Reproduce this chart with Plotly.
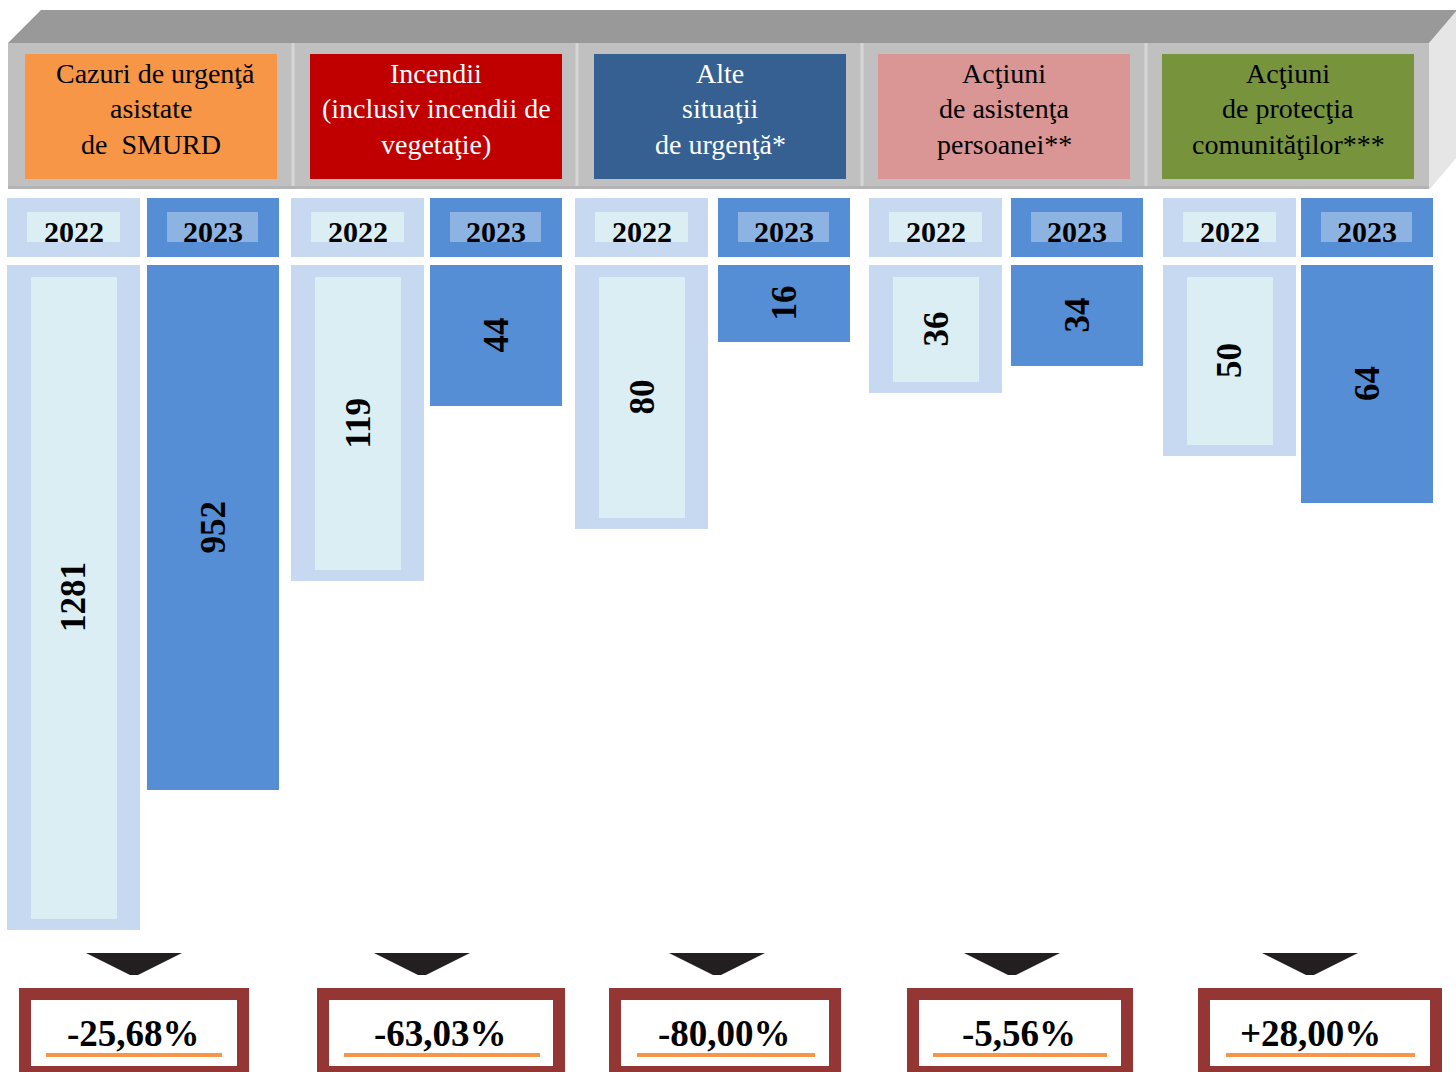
import plotly.graph_objects as go

# ---------------- data ----------------
category_lines = [
    ["Cazuri de urgenţă", "asistate", "de  SMURD"],
    ["Incendii", "(inclusiv incendii de", "vegetaţie)"],
    ["Alte", "situaţii", "de urgenţă*"],
    ["Acţiuni", "de asistenţa", "persoanei**"],
    ["Acţiuni", "de protecţia", "comunităţilor***"],
]
years = ["2022", "2023"]
values_2022 = [1281, 119, 80, 36, 50]
values_2023 = [952, 44, 16, 34, 64]
# drawn bar lengths as shown in the infographic (its own non-linear visual scale)
bar_len_2022 = [665, 316, 264, 128, 191]
bar_len_2023 = [525, 141, 77, 101, 238]


def pct(a, b):
    p = (b - a) / a * 100
    s = f"{p:+.2f}%".replace(".", ",")
    return s if p > 0 else s.replace("+", "")


changes = [pct(a, b) for a, b in zip(values_2022, values_2023)]

# ---------------- layout constants ----------------
W, H = 1456, 1072
FONT = "Liberation Serif"
left_2022 = [7, 291, 575, 869, 1163]
left_2023 = [147, 430, 718, 1011, 1301]
w_2022, w_2023 = 133, 132
cx_2022 = [l + w_2022 / 2 for l in left_2022]
cx_2023 = [l + w_2023 / 2 for l in left_2023]
bar_top = 265
head_left = [25, 310, 594, 878, 1162]
head_w = 252
head_colors = ["#F79646", "#C00000", "#366092", "#DA9694", "#77933C"]
head_text_colors = ["#000000", "#FFFFFF", "#FFFFFF", "#000000", "#000000"]
arrow_cx = [134, 422, 717, 1012, 1310]
box_x = [(19, 249), (317, 565), (609, 841), (907, 1133), (1198, 1442)]
under_x = [(46, 222), (344, 540), (637, 815), (933, 1107), (1226, 1415)]
text_cx = [133, 440, 724, 1019, 1310]

C_LIGHT = "#C6D9F0"
C_LIGHTER = "#DBEEF4"
C_BLUE = "#558ED5"
C_BLUE_LBL = "#8DB3E2"

shapes = []
annotations = []


def rect(x0, y0, x1, y1, color, layer="below"):
    shapes.append(dict(type="rect", xref="x", yref="y", x0=x0, y0=y0, x1=x1, y1=y1,
                       fillcolor=color, line=dict(width=0), layer=layer))


def poly(pts, color, layer="below"):
    d = "M " + " L ".join(f"{x},{y}" for x, y in pts) + " Z"
    shapes.append(dict(type="path", xref="x", yref="y", path=d, fillcolor=color,
                       line=dict(width=0), layer=layer))


# 3D header
poly([(8, 43), (41, 10), (1470, 10), (1429, 43)], "#999999")
rect(8, 43, 1429, 189, "#C0C0C0")
poly([(1429, 43), (1458, 9), (1458, 156), (1429, 190)], "#E6E6E6")
for xd in [293, 577, 862, 1146]:
    rect(xd - 1.5, 43, xd + 1.5, 189, "#D6D6D6")
rect(8, 186, 1429, 189, "#B4B4B4")

for i, lines in enumerate(category_lines):
    rect(head_left[i], 54, head_left[i] + head_w, 179, head_colors[i])
    for j, line in enumerate(lines):
        annotations.append(dict(x=head_left[i] + head_w / 2 + (4 if i == 0 and j == 0 else 0),
                                y=[73, 108, 144][j], xref="x", yref="y", text=line,
                                showarrow=False, xanchor="center", yanchor="middle",
                                font=dict(family=FONT, size=28, color=head_text_colors[i])))

# year header cells
for i in range(5):
    rect(left_2022[i], 198, left_2022[i] + w_2022, 257, C_LIGHT)
    rect(left_2022[i] + 20, 212, left_2022[i] + 113, 242, C_LIGHTER)
    rect(left_2023[i], 198, left_2023[i] + w_2023, 257, C_BLUE)
    rect(left_2023[i] + 20, 212, left_2023[i] + 111, 242, C_BLUE_LBL)
    for cx, yr in [(cx_2022[i], years[0]), (cx_2023[i], years[1])]:
        annotations.append(dict(x=cx, y=231, xref="x", yref="y", text=f"<b>{yr}</b>",
                                showarrow=False, xanchor="center", yanchor="middle",
                                font=dict(family=FONT, size=30, color="#000000")))

# bars
fig = go.Figure()
fig.add_trace(go.Bar(x=cx_2022, y=bar_len_2022, base=bar_top, width=w_2022,
                     marker=dict(color=C_LIGHT, line=dict(width=0)), hoverinfo="skip",
                     name="2022"))
fig.add_trace(go.Bar(x=cx_2022, y=[v - 23 for v in bar_len_2022], base=bar_top + 12, width=86,
                     marker=dict(color=C_LIGHTER, line=dict(width=0)), hoverinfo="skip",
                     name="2022 inner"))
fig.add_trace(go.Bar(x=cx_2023, y=bar_len_2023, base=bar_top, width=w_2023,
                     marker=dict(color=C_BLUE, line=dict(width=0)), hoverinfo="skip",
                     name="2023"))

for i in range(5):
    for cx, L, v in [(cx_2022[i], bar_len_2022[i], values_2022[i]),
                     (cx_2023[i], bar_len_2023[i], values_2023[i])]:
        annotations.append(dict(x=cx, y=bar_top + L / 2, xref="x", yref="y",
                                text=f"<b>{v}</b>", textangle=-90, showarrow=False,
                                xanchor="center", yanchor="middle",
                                font=dict(family=FONT, size=35, color="#000000")))

# arrows and change boxes
for i in range(5):
    c = arrow_cx[i]
    poly([(c - 48, 953), (c + 48, 953), (c + 4, 975), (c - 4, 975)], "#231F20", layer="above")
    x0, x1 = box_x[i]
    rect(x0, 988, x1, 1085, "#943634", layer="above")
    rect(x0 + 12, 1000, x1 - 12, 1066, "#FFFFFF", layer="above")
    u0, u1 = under_x[i]
    rect(u0, 1053, u1, 1057, "#F79646", layer="above")
    annotations.append(dict(x=text_cx[i], y=1033, xref="x", yref="y",
                            text=f"<b>{changes[i]}</b>", showarrow=False,
                            xanchor="center", yanchor="middle",
                            font=dict(family=FONT, size=37, color="#000000")))

fig.update_layout(
    width=W, height=H, autosize=False,
    margin=dict(l=0, r=0, t=0, b=0, pad=0),
    paper_bgcolor="#FFFFFF", plot_bgcolor="#FFFFFF",
    barmode="overlay", bargap=0, showlegend=False,
    xaxis=dict(range=[0, W], visible=False, fixedrange=True),
    yaxis=dict(range=[H, 0], visible=False, fixedrange=True),
    shapes=shapes, annotations=annotations,
)

fig.write_html("out.html", config=dict(displayModeBar=False),
               post_script="document.body.style.margin='0px';document.body.style.overflow='hidden';")
